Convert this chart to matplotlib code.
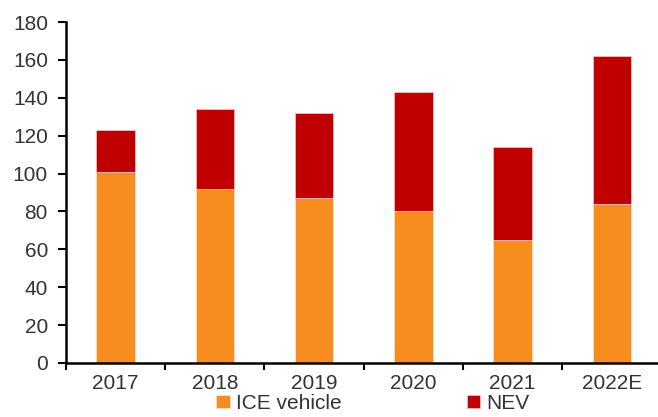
import matplotlib.pyplot as plt
import numpy as np

plt.rcParams['font.family'] = ['Liberation Sans', 'DejaVu Sans']

years = ["2017", "2018", "2019", "2020", "2021", "2022E"]
ice = [101, 92, 87, 80, 65, 84]
nev = [22, 42, 45, 63, 49, 78]

ICE_COLOR = "#F78C1F"
NEV_COLOR = "#C00000"

fig = plt.figure(figsize=(6.58, 4.17), dpi=100)
ax = fig.add_axes([0.1003, 0.1295, 0.905, 0.8175])

x = np.arange(len(years))
ax.bar(x, ice, width=0.39, color=ICE_COLOR, edgecolor="#FCE5D0", linewidth=0.5, label="ICE vehicle")
ax.bar(x, nev, width=0.39, bottom=ice, color=NEV_COLOR, edgecolor="#F5C8C8", linewidth=0.5, label="NEV")

ax.set_ylim(0, 180)
ax.set_yticks(range(0, 181, 20))
ax.set_xlim(-0.5, len(years) - 0.5)
ax.set_xticks(x)
ax.set_xticklabels(years)
ax.set_xticks(np.arange(-0.5, len(years)), minor=True)

for s in ["top", "right"]:
    ax.spines[s].set_visible(False)
for s in ["left", "bottom"]:
    ax.spines[s].set_linewidth(1.8)
    ax.spines[s].set_color("black")

ax.tick_params(axis="y", direction="out", length=6, width=1.5, labelsize=15, colors="black", labelcolor="#333333", pad=7)
ax.tick_params(axis="x", which="major", length=0, labelsize=15, labelcolor="#333333", pad=8)
ax.tick_params(axis="x", which="minor", direction="out", length=5, width=1.5)

fig.legend(loc="lower center", bbox_to_anchor=(0.567, -0.035), ncol=2, frameon=False,
           fontsize=15, handlelength=0.65, handleheight=0.65, handletextpad=0.3,
           columnspacing=6.0, labelcolor="#333333")

fig.savefig("out.png", dpi=100)
